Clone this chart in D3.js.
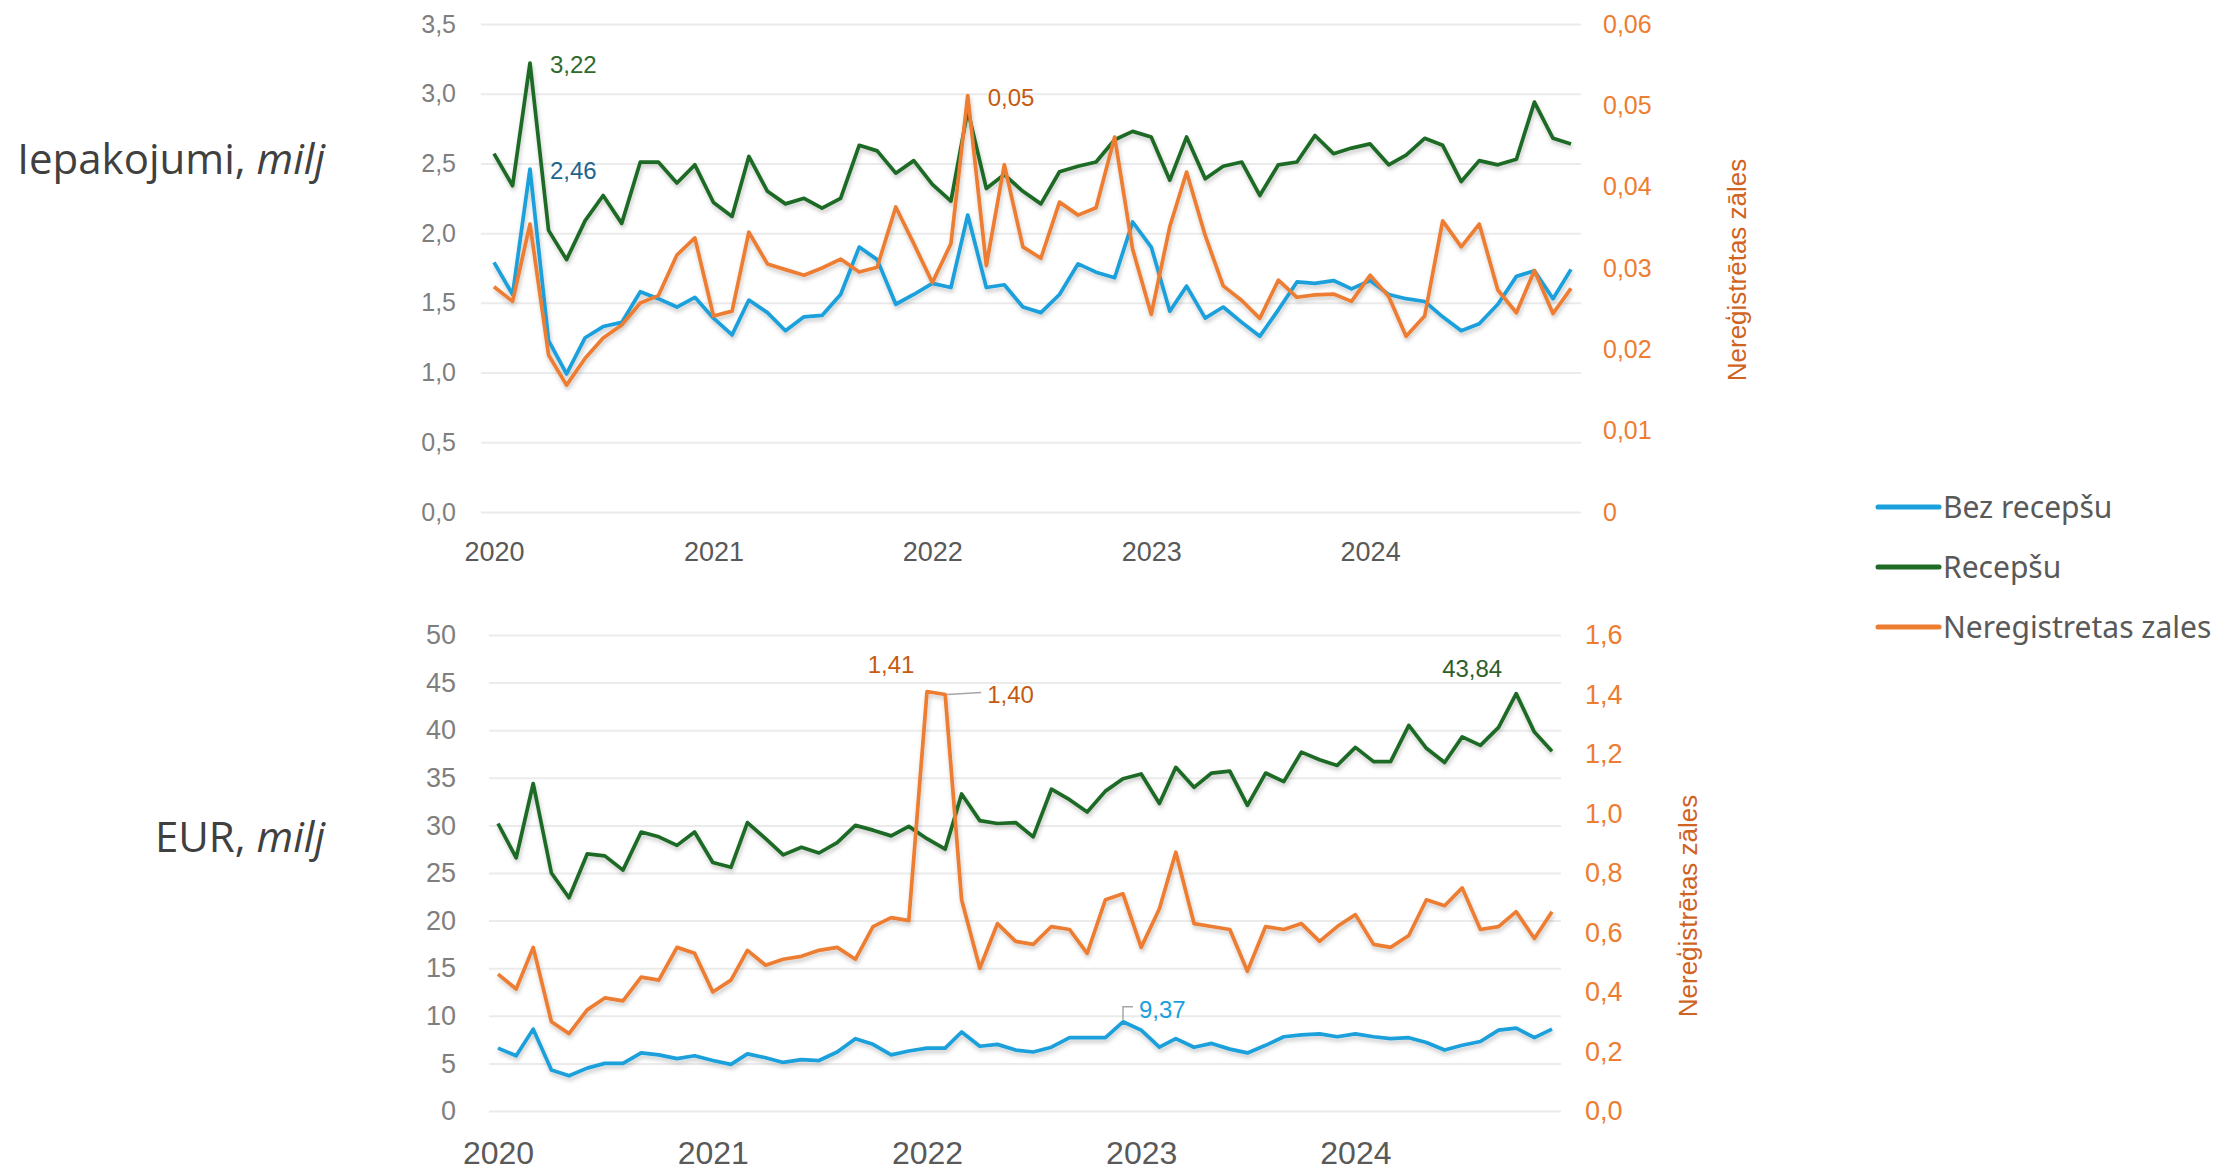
<!DOCTYPE html>
<html>
<head>
<meta charset="utf-8">
<script src="https://cdn.jsdelivr.net/npm/d3@7"></script>
<style>
  body { margin: 0; background: #fff; }
  svg text { font-family: "Liberation Sans", Arial, sans-serif; }
</style>
</head>
<body>
<svg id="chart" width="2219" height="1171"></svg>
<script>
// ---- data (monthly, Jan 2020 .. Dec 2024) ----
var months = d3.timeMonth.range(new Date(2020, 0, 1), new Date(2025, 0, 1));
var yearTicks = [2020, 2021, 2022, 2023, 2024];

var seriesNames  = ["Bez recepšu", "Recepšu", "Neregistretas zales"];
var seriesColors = ["#1AA0DB", "#1E6B25", "#ED7D31"];

// Iepakojumi, milj
var pkgBez = [1.79,1.56,2.46,1.23,0.99,1.25,1.33,1.36,1.58,1.53,1.47,1.54,
              1.39,1.27,1.52,1.43,1.30,1.40,1.41,1.56,1.90,1.81,1.49,1.56,
              1.64,1.61,2.13,1.61,1.63,1.47,1.43,1.56,1.78,1.72,1.68,2.08,
              1.90,1.44,1.62,1.39,1.47,1.36,1.26,1.45,1.65,1.64,1.66,1.60,
              1.66,1.56,1.53,1.51,1.40,1.30,1.35,1.49,1.69,1.73,1.53,1.74];
var pkgRec = [2.57,2.34,3.22,2.02,1.81,2.09,2.27,2.07,2.51,2.51,2.36,2.49,
              2.22,2.12,2.55,2.30,2.21,2.25,2.18,2.25,2.63,2.59,2.43,2.52,
              2.35,2.23,2.88,2.32,2.42,2.30,2.21,2.44,2.48,2.51,2.67,2.73,
              2.69,2.38,2.69,2.39,2.48,2.51,2.27,2.49,2.51,2.70,2.57,2.61,
              2.64,2.49,2.56,2.68,2.63,2.37,2.52,2.49,2.53,2.94,2.68,2.64];
var pkgNer = [0.0277,0.0259,0.0354,0.0193,0.0156,0.0189,0.0214,0.0230,0.0257,0.0266,0.0316,0.0337,
              0.0241,0.0247,0.0344,0.0305,0.0298,0.0291,0.0300,0.0311,0.0295,0.0301,0.0375,0.0330,
              0.0282,0.0330,0.0512,0.0303,0.0427,0.0326,0.0312,0.0381,0.0365,0.0374,0.0461,0.0323,
              0.0243,0.0351,0.0418,0.0340,0.0278,0.0260,0.0238,0.0285,0.0264,0.0267,0.0268,0.0259,
              0.0291,0.0265,0.0216,0.0241,0.0358,0.0326,0.0354,0.0273,0.0245,0.0297,0.0244,0.0275];

// EUR, milj
var eurBez = [6.6,5.8,8.6,4.3,3.7,4.5,5.0,5.0,6.1,5.9,5.5,5.8,
              5.3,4.9,6.0,5.6,5.1,5.4,5.3,6.2,7.6,7.0,5.9,6.3,
              6.6,6.6,8.3,6.8,7.0,6.4,6.2,6.7,7.7,7.7,7.7,9.37,
              8.5,6.7,7.6,6.7,7.1,6.5,6.1,6.9,7.8,8.0,8.1,7.8,
              8.1,7.8,7.6,7.7,7.2,6.4,6.9,7.3,8.5,8.7,7.7,8.6];
var eurRec = [30.2,26.6,34.4,25.0,22.4,27.0,26.8,25.3,29.3,28.8,27.9,29.3,
              26.1,25.6,30.3,28.6,26.9,27.7,27.1,28.2,30.0,29.5,28.9,29.9,
              28.6,27.5,33.3,30.5,30.2,30.3,28.8,33.8,32.7,31.4,33.6,34.9,
              35.4,32.3,36.1,34.0,35.5,35.7,32.1,35.5,34.6,37.7,36.9,36.3,
              38.2,36.7,36.7,40.5,38.1,36.6,39.3,38.4,40.3,43.84,39.8,37.8];
var eurNer = [0.46,0.41,0.55,0.30,0.26,0.34,0.38,0.37,0.45,0.44,0.55,0.53,
              0.40,0.44,0.54,0.49,0.51,0.52,0.54,0.55,0.51,0.62,0.65,0.64,
              1.41,1.40,0.71,0.48,0.63,0.57,0.56,0.62,0.61,0.53,0.71,0.73,
              0.55,0.68,0.87,0.63,0.62,0.61,0.47,0.62,0.61,0.63,0.57,0.62,
              0.66,0.56,0.55,0.59,0.71,0.69,0.75,0.61,0.62,0.67,0.58,0.67];

var pkgLeftTicks  = [0, 0.5, 1, 1.5, 2, 2.5, 3, 3.5];
var pkgRightTicks = [0, 0.01, 0.02, 0.03, 0.04, 0.05, 0.06];
var eurLeftTicks  = [0, 5, 10, 15, 20, 25, 30, 35, 40, 45, 50];
var eurRightTicks = [0, 0.2, 0.4, 0.6, 0.8, 1.0, 1.2, 1.4, 1.6];

var rightTitle = "Nereģistrētas zāles";

// ---- drawing ----
var lv = d3.formatLocale({decimal: ",", thousands: " ", grouping: [3], currency: ["", "€"]});
var svg = d3.select("#chart");

var defs = svg.append("defs");
defs.append("filter").attr("id", "shadow")
    .attr("x", "-5%").attr("y", "-10%").attr("width", "110%").attr("height", "130%")
  .append("feDropShadow")
    .attr("dx", 1).attr("dy", 3).attr("stdDeviation", 2)
    .attr("flood-color", "#000").attr("flood-opacity", 0.22);

function drawPanel(cfg) {
  var g = svg.append("g");

  var x = d3.scaleTime()
      .domain([months[0], months[months.length - 1]])
      .range([cfg.xFirst, cfg.xLast]);
  var yL = d3.scaleLinear().domain([0, cfg.leftTicks[cfg.leftTicks.length - 1]])
      .range([cfg.yBottom, cfg.yTop]);
  var yR = d3.scaleLinear().domain([0, cfg.rightTicks[cfg.rightTicks.length - 1]])
      .range([cfg.yBottom, cfg.yTop]);

  // gridlines
  var grid = g.append("g")
      .attr("transform", "translate(" + cfg.gridLeft + ",0)")
      .call(d3.axisLeft(yL).tickValues(cfg.leftTicks)
          .tickSize(-(cfg.gridRight - cfg.gridLeft)).tickFormat(""));
  grid.select(".domain").remove();
  grid.selectAll("line").attr("stroke", "#EBEBEB").attr("stroke-width", 2);

  // left axis
  var la = g.append("g")
      .attr("transform", "translate(" + cfg.gridLeft + ",0)")
      .call(d3.axisLeft(yL).tickValues(cfg.leftTicks).tickSize(0)
          .tickPadding(cfg.leftPad).tickFormat(cfg.leftFormat));
  la.select(".domain").remove();
  la.selectAll("text").attr("fill", "#7F7F7F").style("font-size", cfg.tickSize + "px");

  // right axis
  var ra = g.append("g")
      .attr("transform", "translate(" + cfg.gridRight + ",0)")
      .call(d3.axisRight(yR).tickValues(cfg.rightTicks).tickSize(0)
          .tickPadding(cfg.rightPad).tickFormat(cfg.rightFormat));
  ra.select(".domain").remove();
  ra.selectAll("text").attr("fill", "#ED7D31").style("font-size", cfg.tickSize + "px");

  // x axis
  var xa = g.append("g")
      .attr("transform", "translate(0," + cfg.yBottom + ")")
      .call(d3.axisBottom(x)
          .tickValues(yearTicks.map(function(yr) { return new Date(yr, 0, 1); }))
          .tickSize(0).tickPadding(cfg.xPad).tickFormat(d3.timeFormat("%Y")));
  xa.select(".domain").remove();
  xa.selectAll("text").attr("fill", "#595959").style("font-size", cfg.yearSize + "px");

  // left panel title
  var t = g.append("text")
      .attr("x", 325).attr("y", cfg.titleY)
      .attr("text-anchor", "end")
      .attr("fill", "#404040")
      .style("font-family", "'Open Sans', 'Noto Sans', sans-serif")
      .style("font-size", "42px");
  t.append("tspan").text(cfg.title + ", ");
  t.append("tspan").style("font-style", "italic").text("milj");

  // right axis title
  g.append("text")
      .attr("transform", "translate(" + cfg.rTitleX + "," + cfg.rTitleY + ") rotate(-90)")
      .attr("text-anchor", "middle")
      .attr("fill", "#D0631F")
      .style("font-size", "26px")
      .text(rightTitle);

  // lines
  var lineL = d3.line()
      .x(function(d, i) { return x(months[i]); })
      .y(function(d) { return yL(d); });
  var lineR = d3.line()
      .x(function(d, i) { return x(months[i]); })
      .y(function(d) { return yR(d); });

  var lines = g.append("g").attr("filter", "url(#shadow)");
  lines.append("path").datum(cfg.bez).attr("d", lineL)
      .attr("fill", "none").attr("stroke", seriesColors[0])
      .attr("stroke-width", 3.7).attr("stroke-linejoin", "round");
  lines.append("path").datum(cfg.rec).attr("d", lineL)
      .attr("fill", "none").attr("stroke", seriesColors[1])
      .attr("stroke-width", 3.7).attr("stroke-linejoin", "round");
  lines.append("path").datum(cfg.ner).attr("d", lineR)
      .attr("fill", "none").attr("stroke", seriesColors[2])
      .attr("stroke-width", 3.7).attr("stroke-linejoin", "round");

  return {x: x, yL: yL, yR: yR, g: g};
}

function label(g, px, py, txt, color, anchor) {
  g.append("text")
      .attr("x", px).attr("y", py)
      .attr("dy", "0.35em")
      .attr("text-anchor", anchor || "start")
      .attr("fill", color)
      .style("font-size", "24px")
      .text(txt);
}

var fmt1 = lv.format(".1f"), fmt2 = lv.format(".2f");

// top panel: packages
var pkgPanel = drawPanel({
  title: "Iepakojumi", titleY: 174,
  bez: pkgBez, rec: pkgRec, ner: pkgNer,
  leftTicks: pkgLeftTicks, rightTicks: pkgRightTicks,
  leftFormat: fmt1,
  rightFormat: function(d) { return d === 0 ? "0" : fmt2(d); },
  gridLeft: 481, gridRight: 1581, xFirst: 494, xLast: 1571,
  yTop: 24, yBottom: 512,
  leftPad: 25, rightPad: 22, xPad: 30,
  tickSize: 25, yearSize: 27,
  rTitleX: 1746, rTitleY: 270
});

// bottom panel: EUR
var eurPanel = drawPanel({
  title: "EUR", titleY: 852,
  bez: eurBez, rec: eurRec, ner: eurNer,
  leftTicks: eurLeftTicks, rightTicks: eurRightTicks,
  leftFormat: function(d) { return String(d); },
  rightFormat: fmt1,
  gridLeft: 489, gridRight: 1561, xFirst: 498, xLast: 1552,
  yTop: 635, yBottom: 1111,
  leftPad: 33, rightPad: 24, xPad: 30,
  tickSize: 27, yearSize: 32,
  rTitleX: 1697, rTitleY: 906
});

// data labels
var tp = pkgPanel, bp = eurPanel;
label(tp.g, tp.x(months[2]) + 20, tp.yL(pkgRec[2]) + 2, fmt2(pkgRec[2]), "#2E6A2C");
label(tp.g, tp.x(months[2]) + 20, tp.yL(pkgBez[2]) + 2, fmt2(pkgBez[2]), "#21658F");
label(tp.g, tp.x(months[26]) + 20, tp.yR(pkgNer[26]) + 2, fmt2(pkgNer[26]), "#C55A11");

label(bp.g, bp.x(months[24]) - 36, bp.yR(eurNer[24]) - 27, fmt2(eurNer[24]), "#C55A11", "middle");
label(bp.g, bp.x(months[25]) + 42, bp.yR(eurNer[25]), fmt2(eurNer[25]), "#C55A11");
bp.g.append("path")
    .attr("d", d3.line()([[bp.x(months[25]) + 2, bp.yR(eurNer[25])],
                          [bp.x(months[25]) + 36, bp.yR(eurNer[25]) - 2]]))
    .attr("fill", "none").attr("stroke", "#A6A6A6").attr("stroke-width", 1.5);

label(bp.g, bp.x(months[57]) - 44, bp.yL(eurRec[57]) - 25, fmt2(eurRec[57]), "#2F5E2B", "middle");

var p35x = bp.x(months[35]), p35y = bp.yL(eurBez[35]);
bp.g.append("path")
    .attr("d", d3.line()([[p35x, p35y - 2], [p35x, p35y - 15], [p35x + 10, p35y - 15]]))
    .attr("fill", "none").attr("stroke", "#A6A6A6").attr("stroke-width", 1.5);
label(bp.g, p35x + 16, p35y - 12, fmt2(eurBez[35]), "#1AA0DB");

// legend
var legend = svg.append("g").attr("transform", "translate(1878,507)");
seriesNames.forEach(function(name, k) {
  var row = legend.append("g").attr("transform", "translate(0," + (k * 60) + ")");
  row.append("line").attr("x1", 0).attr("x2", 61).attr("y1", 0).attr("y2", 0)
      .attr("stroke", seriesColors[k]).attr("stroke-width", 5).attr("stroke-linecap", "round");
  row.append("text").attr("x", 65).attr("y", 0).attr("dy", "0.35em")
      .attr("fill", "#595959")
      .style("font-family", "'Noto Sans', 'Open Sans', sans-serif")
      .style("font-size", "30px")
      .text(name);
});
</script>
</body>
</html>
